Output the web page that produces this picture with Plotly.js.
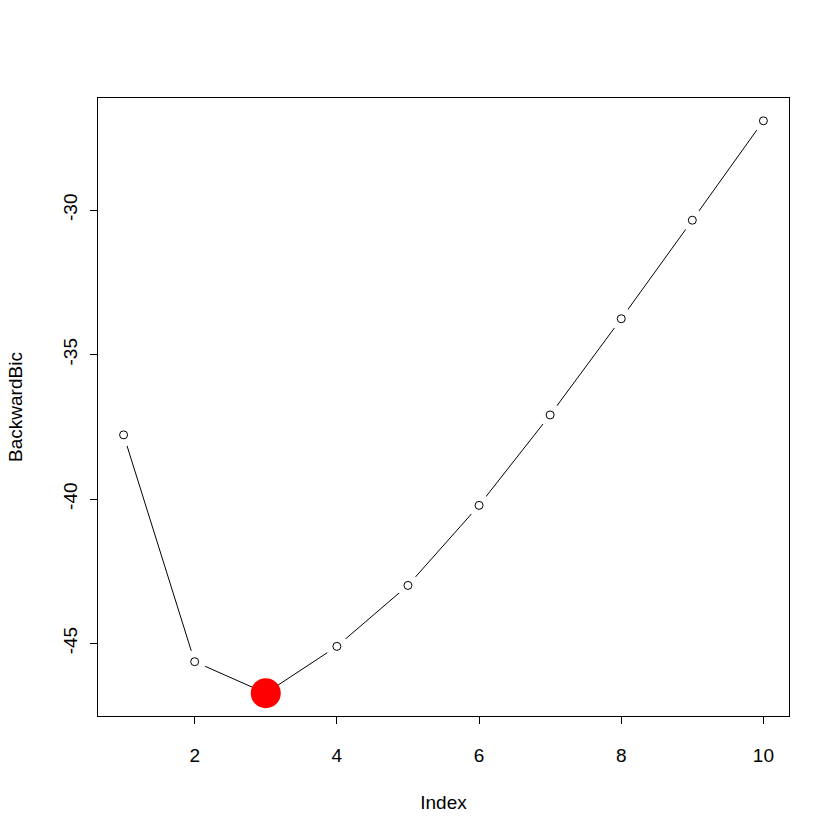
<!DOCTYPE html>
<html>
<head>
<meta charset="utf-8">
<script src="https://cdn.plot.ly/plotly-3.0.1.min.js"></script>
<style>html,body{margin:0;padding:0;background:#fff;}#chart{width:840px;height:840px;}</style>
</head>
<body>
<div id="chart"></div>
<script>
const index = [1, 2, 3, 4, 5, 6, 7, 8, 9, 10];
const backwardBic = [-37.78, -45.63, -46.72, -45.10, -42.99, -40.22, -37.09, -33.76, -30.35, -26.91];
const xTicks = [2, 4, 6, 8, 10];
const yTicks = [-45, -40, -35, -30];

const minVal = Math.min(...backwardBic);
const minIdx = backwardBic.indexOf(minVal);

const font = {family: 'Liberation Sans, Arial, sans-serif', size: 19, color: '#000'};

const traces = [
  {x: index, y: backwardBic, mode: 'lines', line: {color: '#000', width: 1}, hoverinfo: 'skip', showlegend: false},
  {x: index, y: backwardBic, mode: 'markers', marker: {color: '#fff', size: 23, line: {width: 0}}, hoverinfo: 'skip', showlegend: false},
  {x: index, y: backwardBic, mode: 'markers', marker: {symbol: 'circle-open', color: '#000', size: 8, line: {width: 1, color: '#000'}}, showlegend: false},
  {x: [index[minIdx]], y: [minVal], mode: 'markers', marker: {color: '#ff0000', size: 30, line: {width: 0}}, showlegend: false}
];

const layout = {
  width: 840, height: 840,
  margin: {l: 98, r: 51, t: 98, b: 124},
  paper_bgcolor: '#fff', plot_bgcolor: '#fff',
  font: font,
  showlegend: false,
  xaxis: {
    range: [0.64, 10.36],
    tickvals: xTicks, ticktext: xTicks.map(String),
    ticks: 'outside', ticklen: 7, tickwidth: 1, tickcolor: '#000',
    showline: true, linecolor: '#000', linewidth: 1, mirror: true,
    showgrid: false, zeroline: false,
    ticklabelstandoff: 15,
    tickfont: font,
    title: {text: 'Index', font: font, standoff: 30}
  },
  yaxis: {
    range: [-47.51, -26.12],
    tickvals: yTicks, ticktext: yTicks.map(String),
    tickangle: -90,
    ticks: 'outside', ticklen: 7, tickwidth: 1, tickcolor: '#000',
    showline: true, linecolor: '#000', linewidth: 1, mirror: true,
    showgrid: false, zeroline: false,
    ticklabelstandoff: 5,
    tickfont: font,
    title: {text: 'BackwardBic', font: font, standoff: 32}
  }
};

Plotly.newPlot('chart', traces, layout, {displayModeBar: false, staticPlot: true});
</script>
</body>
</html>
